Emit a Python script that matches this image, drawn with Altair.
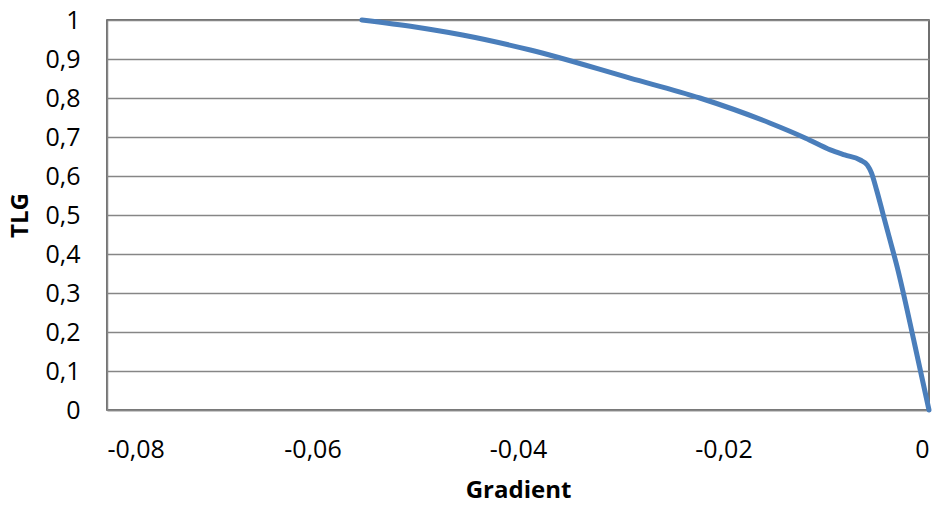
import altair as alt
import pandas as pd

gradient = [-0.0552, -0.0500, -0.0454, -0.0388, -0.0291, -0.0223, -0.0155, -0.0120,
            -0.0096, -0.0082, -0.0067, -0.0060, -0.0056, -0.0051, -0.0045, -0.0038,
            -0.0031, -0.0014, 0.0]
tlg = [1.0, 0.982, 0.9615, 0.923, 0.851, 0.800, 0.736, 0.697,
       0.667, 0.654, 0.641, 0.628, 0.608, 0.564, 0.505, 0.436,
       0.367, 0.169, 0.0]

x_ticks = [-0.08, -0.06, -0.04, -0.02, 0.0]
y_ticks = [0, 0.1, 0.2, 0.3, 0.4, 0.5, 0.6, 0.7, 0.8, 0.9, 1.0]

df = pd.DataFrame({"Gradient": gradient, "TLG": tlg})

FONT = "Open Sans"

chart = alt.Chart(df).mark_line(
    color="#4A7EBB", strokeWidth=5, interpolate="monotone", strokeCap="round"
).encode(
    x=alt.X("Gradient:Q",
            scale=alt.Scale(domain=[-0.08, 0], nice=False, zero=False),
            axis=alt.Axis(values=x_ticks, grid=False, ticks=False,
                          labelExpr="replace(replace(format(datum.value, '.2~f'), '\u2212', '-'), '.', ',')",
                          labelPadding=27, labelFontSize=25, labelColor="#000000",
                          domainColor="#868686", domainWidth=1.5,
                          title="Gradient", titleFontSize=24, titleFontWeight="bold",
                          titleColor="#000000", titlePadding=16)),
    y=alt.Y("TLG:Q",
            scale=alt.Scale(domain=[0, 1], nice=False),
            axis=alt.Axis(values=y_ticks, grid=True, gridColor="#868686", gridWidth=1.5,
                          ticks=False,
                          labelExpr="replace(format(datum.value, '.1~f'), '.', ',')",
                          labelPadding=27, labelFontSize=25, labelColor="#000000",
                          domainColor="#868686", domainWidth=1.5,
                          title="TLG", titleFontSize=24, titleFontWeight="bold",
                          titleColor="#000000", titlePadding=12))
).properties(
    width=822, height=390,
    autosize=alt.AutoSizeParams(type="none"),
    padding={"left": 107, "top": 20, "right": 7, "bottom": 96},
).configure(
    font=FONT,
).configure_view(
    stroke="#404040", strokeWidth=1.5
)

chart.save("out.html", embed_options={"renderer": "svg", "actions": False})
